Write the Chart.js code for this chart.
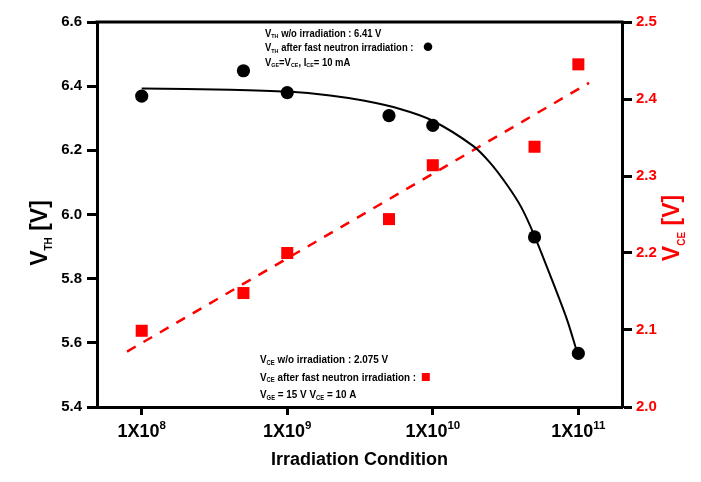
<!DOCTYPE html>
<html><head><meta charset="utf-8">
<script src="https://cdn.jsdelivr.net/npm/chart.js@4.4.1/dist/chart.umd.min.js"></script>
<style>html,body{margin:0;padding:0;background:#fff;}canvas{display:block;background:#fff;}</style>
</head><body>
<canvas id="c" width="701" height="482"></canvas>
<script>
// ---- data ----
const fluence = [1e8, 5e8, 1e9, 5e9, 1e10, 5e10, 1e11];
const vthValues = [6.369, 6.448, 6.380, 6.308, 6.278, 5.930, 5.567];
const vceValues = [2.099, 2.148, 2.200, 2.244, 2.314, 2.338, 2.445];
const vthCurveX = [1e8, 4.05e8, 1e9, 1.97e9, 3.33e9, 5.96e9, 9.9e9, 1.89e10, 2.48e10, 3.24e10, 4.05e10, 4.97e10, 6.40e10, 8.38e10, 9.8e10];
const vthCurveY = [6.393, 6.389, 6.383, 6.371, 6.355, 6.329, 6.293, 6.214, 6.161, 6.092, 6.023, 5.936, 5.811, 5.671, 5.571];
const vceFitX = [7.93e7, 1.186e11];
const vceFitY = [2.072, 2.421];
const xTickValues = [1e8, 1e9, 1e10, 1e11];
const xTickBase = ['1X10', '1X10', '1X10', '1X10'];
const xTickExp = ['8', '9', '10', '11'];
const leftTickValues = [5.4, 5.6, 5.8, 6.0, 6.2, 6.4, 6.6];
const rightTickValues = [2.0, 2.1, 2.2, 2.3, 2.4, 2.5];
const xTitle = 'Irradiation Condition';

const FONT = '"Liberation Sans", Arial, sans-serif';
Chart.defaults.font.family = FONT;
const pts = (xs, ys) => xs.map((x, i) => ({x: x, y: ys[i]}));

function drawRich(ctx, parts, x, y, o) {
  ctx.save();
  ctx.translate(x, y);
  if (o.rot) ctx.rotate(o.rot);
  ctx.scale(o.sx || 1, 1);
  ctx.fillStyle = o.color || '#000';
  ctx.textBaseline = 'alphabetic';
  ctx.textAlign = 'left';
  const fontOf = p => 'bold ' + (p.sub ? o.subSize : o.size) + 'px ' + FONT;
  let total = 0;
  parts.forEach(p => { ctx.font = fontOf(p); total += ctx.measureText(p.t).width; });
  let cx = o.align === 'center' ? -total / 2 : 0;
  parts.forEach(p => {
    ctx.font = fontOf(p);
    ctx.fillText(p.t, cx, p.sub ? o.subDy : 0);
    cx += ctx.measureText(p.t).width;
  });
  ctx.restore();
}

const decor = {
  id: 'decor',
  afterDraw(chart) {
    const ctx = chart.ctx, a = chart.chartArea;
    ctx.save();
    ctx.strokeStyle = '#000';
    ctx.lineWidth = 3;
    ctx.beginPath();
    ctx.moveTo(a.left - 1.5, a.top);
    ctx.lineTo(a.right + 1.5, a.top);
    ctx.stroke();
    ctx.restore();

    // x tick labels with superscript exponents, placed by the x scale
    const xs = chart.scales.x;
    xTickValues.forEach((v, i) => {
      const px = xs.getPixelForValue(v);
      drawRich(ctx, [{t: xTickBase[i]}, {t: xTickExp[i], sub: 1}], px, a.bottom + 29.5,
        {size: 18, subSize: 11.5, subDy: -8, align: 'center'});
    });

    // axis titles with subscripts
    drawRich(ctx, [{t: 'V'}, {t: 'TH', sub: 1}, {t: ' [V]'}], 46.7, 233,
      {rot: -Math.PI / 2, size: 23, subSize: 10, subDy: 5, align: 'center'});
    drawRich(ctx, [{t: 'V'}, {t: 'CE', sub: 1}, {t: ' [V]'}], 679.3, 228,
      {rot: -Math.PI / 2, size: 23, subSize: 10, subDy: 6, align: 'center', color: '#ff0000'});

    // top annotation
    const top = {size: 10.5, subSize: 6, subDy: 1.5, sx: 0.9};
    drawRich(ctx, [{t: 'V'}, {t: 'TH', sub: 1}, {t: ' w/o irradiation : 6.41 V'}], 265, 36.7, top);
    drawRich(ctx, [{t: 'V'}, {t: 'TH', sub: 1}, {t: ' after fast neutron irradiation :'}], 265, 51.3, top);
    drawRich(ctx, [{t: 'V'}, {t: 'GE', sub: 1}, {t: '=V'}, {t: 'CE', sub: 1}, {t: ', I'}, {t: 'CE', sub: 1}, {t: '= 10 mA'}], 265, 65.7, top);
    ctx.save();
    ctx.fillStyle = '#000';
    ctx.beginPath();
    ctx.arc(428, 46.7, 4.3, 0, Math.PI * 2);
    ctx.fill();
    ctx.restore();

    // bottom annotation
    const bot = {size: 11, subSize: 6.5, subDy: 1.5, sx: 0.9};
    drawRich(ctx, [{t: 'V'}, {t: 'CE', sub: 1}, {t: ' w/o irradiation : 2.075 V'}], 260, 363.3, bot);
    drawRich(ctx, [{t: 'V'}, {t: 'CE', sub: 1}, {t: ' after fast neutron irradiation :'}], 260, 380.7, bot);
    drawRich(ctx, [{t: 'V'}, {t: 'GE', sub: 1}, {t: ' = 15 V V'}, {t: 'CE', sub: 1}, {t: ' = 10 A'}], 260, 398, bot);
    ctx.save();
    ctx.fillStyle = '#ff0000';
    ctx.fillRect(421.8, 373, 8, 8);
    ctx.restore();
  }
};

new Chart(document.getElementById('c'), {
  type: 'scatter',
  data: {
    datasets: [
      {label: 'VCE', data: pts(fluence, vceValues), yAxisID: 'y2', pointStyle: 'rect',
       pointRadius: 8.5, backgroundColor: '#ff0000', borderWidth: 0, showLine: false},
      {label: 'VTH', data: pts(fluence, vthValues), yAxisID: 'y', pointStyle: 'circle',
       pointRadius: 6.6, backgroundColor: '#000', borderWidth: 0, showLine: false},
      {label: 'VTH fit', data: pts(vthCurveX, vthCurveY), yAxisID: 'y', showLine: true,
       borderColor: '#000', borderWidth: 2, pointRadius: 0, tension: 0.3, fill: false},
      {label: 'VCE fit', data: pts(vceFitX, vceFitY), yAxisID: 'y2', showLine: true,
       borderColor: '#ff0000', borderWidth: 2.5, borderDash: [10, 9], pointRadius: 0, fill: false}
    ]
  },
  options: {
    responsive: false,
    devicePixelRatio: 1,
    animation: false,
    layout: {padding: {top: 22, left: 0, right: 0, bottom: 0}},
    plugins: {legend: {display: false}, tooltip: {enabled: false}},
    scales: {
      x: {
        type: 'logarithmic', position: 'bottom', min: 4.93e7, max: 1.995e11,
        afterBuildTicks: s => { s.ticks = xTickValues.map(v => ({value: v})); },
        afterFit: s => { s.height = 75; },
        ticks: {display: false, autoSkip: false},
        grid: {drawOnChartArea: false, drawTicks: true, tickLength: 8, tickWidth: 3, tickColor: '#000'},
        border: {display: true, color: '#000', width: 3},
        title: {display: true, text: xTitle, font: {size: 18, weight: 'bold'}, color: '#000', padding: {top: 0, bottom: 11}}
      },
      y: {
        type: 'linear', position: 'left', min: 5.4, max: 6.6,
        afterBuildTicks: s => { s.ticks = leftTickValues.map(v => ({value: v})); },
        afterFit: s => { s.width = 97; },
        ticks: {callback: v => Number(v).toFixed(1), font: {size: 15, weight: 'bold'}, color: '#000', padding: 5},
        grid: {drawOnChartArea: false, drawTicks: true, tickLength: 10, tickWidth: 3, tickColor: '#000'},
        border: {display: true, color: '#000', width: 3}
      },
      y2: {
        type: 'linear', position: 'right', min: 2.0, max: 2.5,
        afterBuildTicks: s => { s.ticks = rightTickValues.map(v => ({value: v})); },
        afterFit: s => { s.width = 79; },
        ticks: {callback: v => Number(v).toFixed(1), font: {size: 15, weight: 'bold'}, color: '#ff0000', padding: 4},
        grid: {drawOnChartArea: false, drawTicks: true, tickLength: 10, tickWidth: 3, tickColor: '#000'},
        border: {display: true, color: '#000', width: 3}
      }
    }
  },
  plugins: [decor]
});
</script>
</body></html>
